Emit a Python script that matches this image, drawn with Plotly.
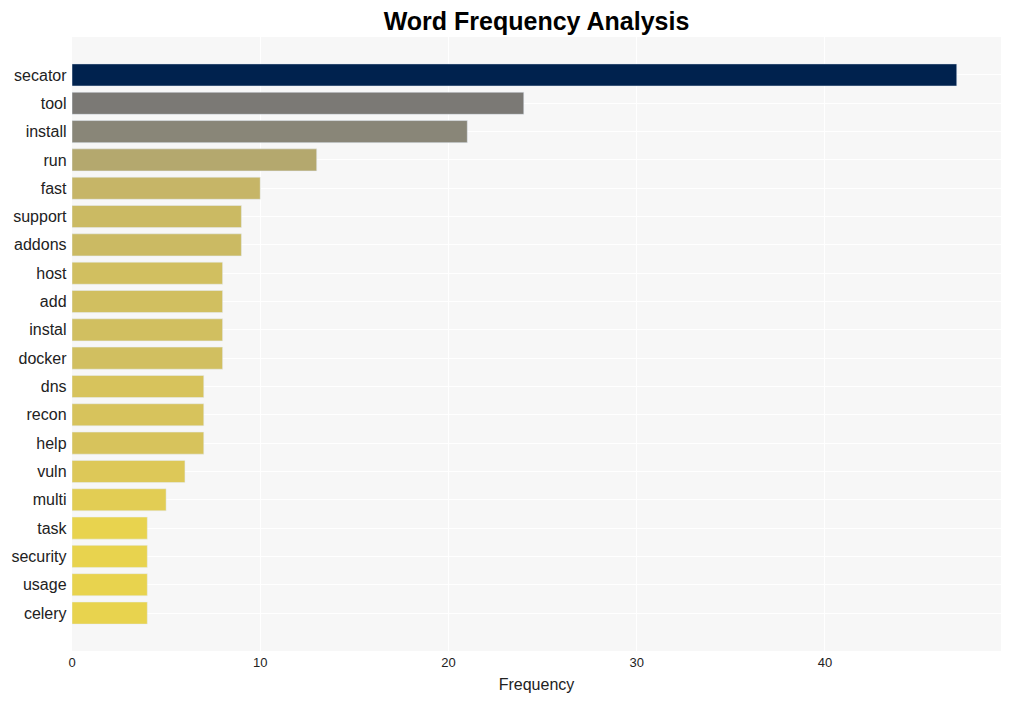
import plotly.graph_objects as go

words = ["secator", "tool", "install", "run", "fast", "support", "addons", "host", "add", "instal",
         "docker", "dns", "recon", "help", "vuln", "multi", "task", "security", "usage", "celery"]
counts = [47, 24, 21, 13, 10, 9, 9, 8, 8, 8, 8, 7, 7, 7, 6, 5, 4, 4, 4, 4]

fig = go.Figure(go.Bar(
    x=counts, y=words, orientation="h",
    marker=dict(color=counts, colorscale="Cividis", reversescale=True, cmin=0, cmax=max(counts)),
    width=0.78,
))

fig.update_layout(
    width=1012, height=701,
    title=dict(text="<b>Word Frequency Analysis</b>", x=0.5, xref="paper", xanchor="center",
               y=0.994, yanchor="top",
               font=dict(family="Liberation Sans, Arial", size=25, color="black")),
    font=dict(family="Liberation Sans, Arial", color="#222"),
    paper_bgcolor="white", plot_bgcolor="#f7f7f7",
    margin=dict(l=64, r=19, t=29, b=58),
    showlegend=False,
)
fig.update_xaxes(title=dict(text="Frequency", font=dict(size=16), standoff=9),
                 range=[0, 49.35], tickvals=[0, 10, 20, 30, 40], tickfont=dict(size=13),
                 ticklabelstandoff=2,
                 gridcolor="white", gridwidth=1, zeroline=False, automargin=False)
fig.update_yaxes(categoryorder="array", categoryarray=words, range=[len(words) - 1 + 1.34, -1.34],
                 tickfont=dict(size=16), gridcolor="white", gridwidth=1, automargin=False, ticksuffix=" ")

fig.write_html("out.html")
